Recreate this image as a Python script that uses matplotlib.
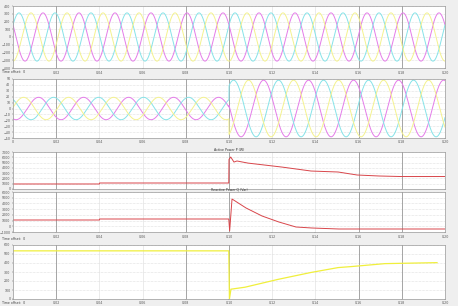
import numpy as np
import matplotlib
matplotlib.use("Agg")
import matplotlib.pyplot as plt

W, H = 458, 306
fig = plt.figure(figsize=(W/100, H/100), dpi=100, facecolor="#efefef")

# ---- data ----
t_end = 0.2
x_ticks = [0, 0.02, 0.04, 0.06, 0.08, 0.10, 0.12, 0.14, 0.16, 0.18, 0.20]
x_labels = ["0", "0.02", "0.04", "0.06", "0.08", "0.10", "0.12", "0.14", "0.16", "0.18", "0.20"]
dark_lines = [0.02, 0.08, 0.10, 0.16, 0.18]
fault_time = 0.10

# panel 1: three-phase voltage
v_freq = 60.0
v_amp = 311.0
v_phase = -3.665
# panel 2: three-phase current
i_freq = 48.0
i_amp_pre = 19.0
i_amp_post = 48.0
i_phase = -2.0

# panel 3a: active power (time, value)
p_time = [0.0, 0.04, 0.0401, 0.0999, 0.1000, 0.1008, 0.1023, 0.1037, 0.1088, 0.1245, 0.1380, 0.1505, 0.1593, 0.1695, 0.1796, 0.20]
p_vals = [950, 950, 1135, 1135, 5600, 6050, 5100, 5300, 4900, 4150, 3400, 3216, 2649, 2460, 2360, 2360]
# panel 3b: reactive power
q_time = [0.0, 0.04, 0.0401, 0.0999, 0.1003, 0.1014, 0.1079, 0.1153, 0.1231, 0.1310, 0.1384, 0.1509, 0.20]
q_vals = [1100, 1100, 1275, 1275, -800, 4775, 3200, 1800, 750, -125, -300, -475, -475]
# panel 4: dc voltage
u_time = [0.0, 0.0999, 0.1002, 0.1009, 0.1074, 0.1227, 0.1380, 0.1505, 0.1565, 0.1722, 0.1963]
u_vals = [535, 535, 0, 109, 131, 218, 295, 349, 360, 393, 404]

phase_colors = ["#e47ce9", "#86e3e8", "#f4f28e"]


def rect(l, t, r, b):
    return [l / W, 1 - b / H, (r - l) / W, (b - t) / H]


def style(ax, yticks, ylim, show_xlabels=True, hide_first=False):
    ax.set_facecolor("white")
    ax.set_xlim(0, t_end)
    ax.set_ylim(*ylim)
    ax.set_xticks(x_ticks)
    labels = list(x_labels)
    if hide_first:
        labels[0] = ""
    ax.set_xticklabels(labels if show_xlabels else [])
    ax.set_yticks(yticks)
    ax.tick_params(labelsize=2.3, length=1, width=0.3, pad=0.8, colors="#555555")
    for s in ax.spines.values():
        s.set_color("#9a9a9a")
        s.set_linewidth(0.5)
    for y in yticks:
        ax.axhline(y, color="#c8c8c8", lw=0.4, ls=(0, (1, 1.5)), zorder=0)
    for x in x_ticks:
        ax.axvline(x, color="#dcdcdc", lw=0.4, zorder=0)
    for x in dark_lines:
        ax.axvline(x, color="#8a8a8a", lw=0.5, zorder=0)


t = np.linspace(0, t_end, 3000)
offsets = [0, -2*np.pi/3, 2*np.pi/3]

# panel 1
ax1 = fig.add_axes(rect(13, 6, 445, 68))
for off, c in zip(offsets, phase_colors):
    ax1.plot(t, v_amp*np.sin(2*np.pi*v_freq*t + v_phase + off), color=c, lw=0.7)
style(ax1, [-400, -300, -200, -100, 0, 100, 200, 300, 400], (-400, 400), hide_first=True)
fig.text(2/W, 1 - 72/H, "Time offset:  0", fontsize=2.3, color="#444444", va="center")

# panel 2
ax2 = fig.add_axes(rect(13, 79, 445, 138))
amp = np.where(t < fault_time, i_amp_pre, i_amp_post)
for off, c in zip(offsets, phase_colors):
    ax2.plot(t, amp*np.sin(2*np.pi*i_freq*t + i_phase + off), color=c, lw=0.7)
style(ax2, list(range(-50, 51, 10)), (-50, 50))

# panel 3a
ax3 = fig.add_axes(rect(13, 152, 445, 189))
ax3.plot(p_time, p_vals, color="#d8454a", lw=0.7)
style(ax3, list(range(0, 7001, 1000)), (0, 7000), show_xlabels=False)
ax3.set_title("Active Power P (W)", fontsize=2.3, pad=1, color="#333333")

# panel 3b
ax4 = fig.add_axes(rect(13, 192, 445, 232))
ax4.plot(q_time, q_vals, color="#d8454a", lw=0.7)
style(ax4, list(range(-1000, 6001, 1000)), (-1000, 6000), hide_first=True)
ax4.set_title("Reactive Power Q (Var)", fontsize=2.3, pad=1, color="#333333")
fig.text(2/W, 1 - 239/H, "Time offset:  0", fontsize=2.3, color="#444444", va="center")

# panel 4
ax5 = fig.add_axes(rect(13, 245, 445, 299))
ax5.plot(u_time, u_vals, color="#f0ef3c", lw=0.9)
style(ax5, list(range(0, 601, 100)), (0, 600), hide_first=True)
fig.text(2/W, 1 - 303/H, "Time offset:  0", fontsize=2.3, color="#444444", va="center")

fig.savefig("out.png", dpi=100, facecolor=fig.get_facecolor())
